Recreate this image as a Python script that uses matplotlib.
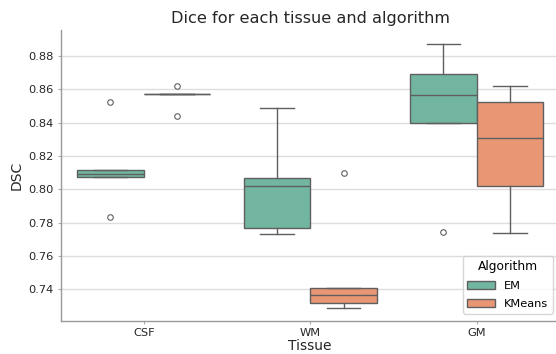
import matplotlib
matplotlib.use("Agg")
import matplotlib.pyplot as plt
from matplotlib.patches import Patch
import seaborn as sns

tissues = ["CSF", "WM", "GM"]
algorithms = ["EM", "KMeans"]

# box statistics per algorithm, in tissue order
em_q1 = [0.8074, 0.7769, 0.8397]
em_med = [0.8092, 0.8022, 0.8567]
em_q3 = [0.8118, 0.8068, 0.8694]
em_lo = [0.8074, 0.7733, 0.8397]
em_hi = [0.8118, 0.8487, 0.8870]
em_fliers = [[0.8523, 0.7832], [], [0.7743]]

km_q1 = [0.8573, 0.7320, 0.8020]
km_med = [0.8573, 0.7368, 0.8309]
km_q3 = [0.8573, 0.7407, 0.8525]
km_lo = [0.8573, 0.7290, 0.7739]
km_hi = [0.8573, 0.7407, 0.8620]
km_fliers = [[0.8620, 0.8437], [0.8096], []]

em_color = sns.desaturate("#66c2a5", 0.75)
km_color = sns.desaturate("#fc8d62", 0.75)
line_color = "#5f5f5f"
text_color = "#262626"

fig = plt.figure(figsize=(5.56, 3.54), dpi=100)
ax = fig.add_axes([60.5 / 556, 1 - 321 / 354, (560 - 60.5) / 556, (321 - 30) / 354])

def stats(q1, med, q3, lo, hi, fl):
    return [dict(q1=a, med=b, q3=c, whislo=d, whishi=e, fliers=f)
            for a, b, c, d, e, f in zip(q1, med, q3, lo, hi, fl)]

width = 0.4
for st, off, col in [
    (stats(em_q1, em_med, em_q3, em_lo, em_hi, em_fliers), -0.2, em_color),
    (stats(km_q1, km_med, km_q3, km_lo, km_hi, km_fliers), 0.2, km_color),
]:
    pos = [i + off for i in range(len(tissues))]
    ax.bxp(st, positions=pos, widths=width, patch_artist=True, showfliers=True,
           boxprops=dict(facecolor=col, edgecolor=line_color, linewidth=1),
           medianprops=dict(color=line_color, linewidth=1),
           whiskerprops=dict(color=line_color, linewidth=1),
           capprops=dict(color=line_color, linewidth=1),
           capwidths=width / 2,
           flierprops=dict(marker="o", markersize=4, markerfacecolor="none",
                           markeredgecolor=line_color, markeredgewidth=0.8),
           zorder=3)

ax.set_xlim(-0.5, 2.5)
ax.set_ylim(0.7210, 0.8955)
ax.set_xticks(range(len(tissues)))
ax.set_xticklabels(tissues)
ax.set_yticks([0.74, 0.76, 0.78, 0.80, 0.82, 0.84, 0.86, 0.88])
ax.set_yticklabels([f"{v:.2f}" for v in ax.get_yticks()])
ax.yaxis.grid(True, color="#dddddd", linewidth=1, zorder=0)
ax.set_axisbelow(True)
for s in ["top", "right"]:
    ax.spines[s].set_visible(False)
for s in ["left", "bottom"]:
    ax.spines[s].set_color("#999999")
    ax.spines[s].set_linewidth(1)
ax.tick_params(axis="both", colors="#aaaaaa", labelcolor=text_color, labelsize=8.2,
               length=2.5, width=0.8, pad=2.5)
ax.set_xlabel("Tissue", fontsize=10, color=text_color, labelpad=1)
ax.set_ylabel("DSC", fontsize=10, color=text_color, labelpad=3)
ax.set_title("Dice for each tissue and algorithm", fontsize=11.6, color=text_color, pad=5)

handles = [Patch(facecolor=em_color, edgecolor=line_color, label=algorithms[0]),
           Patch(facecolor=km_color, edgecolor=line_color, label=algorithms[1])]
ax.legend(handles=handles, title="Algorithm", loc="lower right", fontsize=8.2,
          title_fontsize=8.8, frameon=True, borderaxespad=0.65,
          handlelength=2.4, labelspacing=0.7)

fig.savefig("out.png", dpi=100)
